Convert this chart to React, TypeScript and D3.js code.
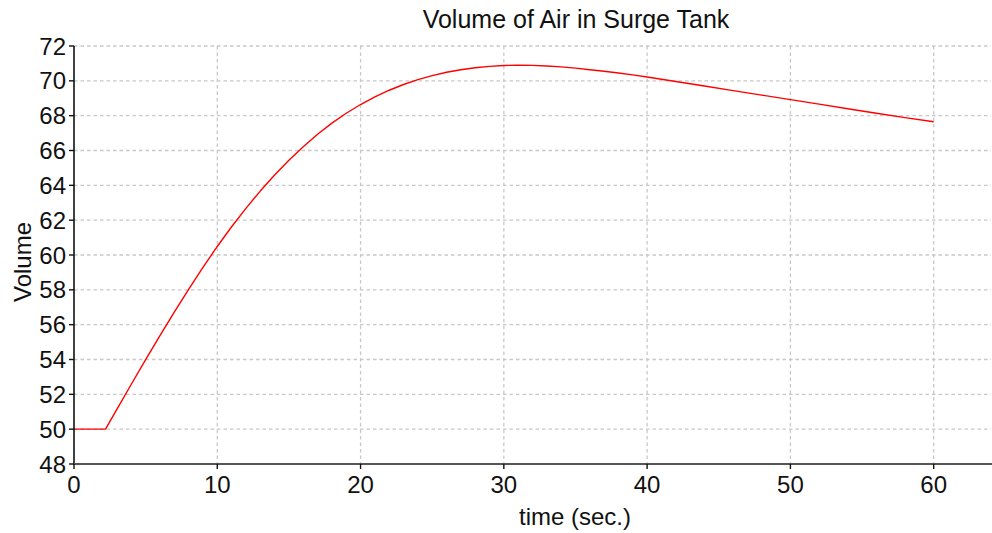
import React from "react";
import * as d3 from "d3";

const timeSec = [0, 2.2, 3, 4, 5, 6, 7, 8, 9, 10, 11, 12, 13, 14, 15, 16, 17, 18, 19, 20, 21, 22, 23, 24, 25, 26, 27, 28, 29, 30, 31, 32, 33, 34, 35, 36, 37, 38, 39, 40, 42, 44, 46, 48, 50, 52, 54, 56, 58, 60];
const volume = [50, 50, 51.15, 52.58, 53.99, 55.37, 56.72, 58.03, 59.29, 60.49, 61.62, 62.68, 63.67, 64.59, 65.44, 66.22, 66.93, 67.57, 68.14, 68.64, 69.08, 69.46, 69.79, 70.07, 70.3, 70.49, 70.64, 70.75, 70.83, 70.88, 70.9, 70.89, 70.85, 70.8, 70.73, 70.64, 70.55, 70.45, 70.34, 70.22, 69.96, 69.7, 69.44, 69.18, 68.92, 68.66, 68.4, 68.14, 67.89, 67.65];
const xTicks = [0, 10, 20, 30, 40, 50, 60];
const yTicks = [48, 50, 52, 54, 56, 58, 60, 62, 64, 66, 68, 70, 72];
const title = "Volume of Air in Surge Tank";
const xLabel = "time (sec.)";
const yLabel = "Volume";

export default function App() {
  const W = 992, H = 533;
  const x = d3.scaleLinear().domain([0, 64]).range([74, 991]);
  const y = d3.scaleLinear().domain([48, 72]).range([464, 46]);
  const pts = timeSec.map((t, i) => [t, volume[i]] as [number, number]);
  const line = d3.line<[number, number]>().x(d => x(d[0])).y(d => y(d[1])).curve(d3.curveLinear);
  const font = "'Liberation Sans', Arial, sans-serif";
  return (
    <svg width={W} height={H} style={{ position: "absolute", left: 0, top: 0, background: "#fff" }} fontFamily={font}>
      {yTicks.filter(v => v !== 48).map(v => (
        <line key={"gy" + v} x1={x(0)} x2={991} y1={y(v)} y2={y(v)} stroke="#c8c8c8" strokeWidth={1.3} strokeDasharray="3.5,3" />
      ))}
      {xTicks.filter(v => v !== 0).map(v => (
        <line key={"gx" + v} x1={x(v)} x2={x(v)} y1={y(72)} y2={y(48)} stroke="#c8c8c8" strokeWidth={1.3} strokeDasharray="3.5,3" />
      ))}
      <path d={line(pts) || ""} fill="none" stroke="#ff0000" strokeWidth={1.4} strokeLinejoin="round" />
      <line x1={x(0)} x2={x(0)} y1={y(72)} y2={y(48) + 1} stroke="#111" strokeWidth={1.6} />
      {yTicks.map(v => (
        <g key={"ty" + v}>
          <line x1={x(0) - 5} x2={x(0)} y1={y(v)} y2={y(v)} stroke="#111" strokeWidth={1.4} />
          <text x={66} y={y(v)} dy="0.36em" textAnchor="end" fontSize={24} fill="#111">{v}</text>
        </g>
      ))}
      <line x1={x(0)} x2={992} y1={y(48)} y2={y(48)} stroke="#555" strokeWidth={2} />
      {xTicks.map(v => (
        <g key={"tx" + v}>
          <line x1={x(v)} x2={x(v)} y1={y(48)} y2={y(48) + 5} stroke="#111" strokeWidth={1.4} />
          <text x={x(v)} y={493} textAnchor="middle" fontSize={24} fill="#111">{v}</text>
        </g>
      ))}
      <text x={576} y={28} textAnchor="middle" fontSize={25} fill="#111">{title}</text>
      <text x={575} y={525} textAnchor="middle" fontSize={24} fill="#111">{xLabel}</text>
      <text transform={`translate(31,262) rotate(-90)`} textAnchor="middle" fontSize={24} fill="#111">{yLabel}</text>
    </svg>
  );
}
